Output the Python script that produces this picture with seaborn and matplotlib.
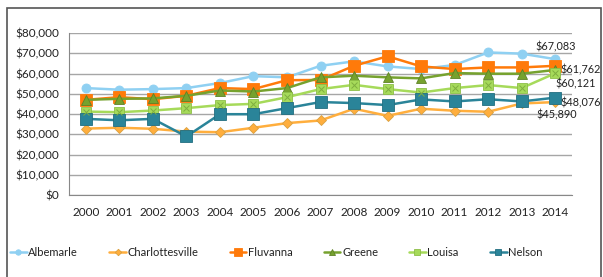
import matplotlib
matplotlib.use("Agg")
import matplotlib.pyplot as plt
import seaborn as sns
import pandas as pd
from matplotlib.patches import Rectangle
from matplotlib.ticker import FuncFormatter

years = [str(y) for y in range(2000, 2015)]
albemarle = [52800, 52000, 52300, 52800, 55300, 58700, 58100, 63800, 66000, 63500, 62200, 64200, 70400, 69800, 67083]
charlottesville = [32800, 33200, 32700, 31300, 31000, 33200, 35500, 36800, 42600, 39100, 42600, 41600, 41100, 45200, 45890]
fluvanna = [47000, 48300, 47300, 49000, 52800, 52300, 56700, 56800, 63800, 68500, 63500, 62200, 63000, 63000, 63800]
greene = [47000, 47500, 47700, 49000, 51600, 51100, 52800, 58100, 58900, 58100, 57600, 60200, 59900, 59900, 61762]
louisa = [41200, 40900, 41700, 42900, 44400, 45000, 48300, 52300, 54400, 52300, 50600, 52800, 54300, 52800, 60121]
nelson = [37600, 36900, 37600, 28900, 39900, 39900, 42900, 45900, 45400, 44400, 47200, 46200, 47300, 46200, 48076]
counties = ["Albemarle", "Charlottesville", "Fluvanna", "Greene", "Louisa", "Nelson"]
yticks = list(range(0, 80001, 10000))

series = dict(zip(counties, [albemarle, charlottesville, fluvanna, greene, louisa, nelson]))
rows = []
for c in counties:
    for i, (yr, v) in enumerate(zip(years, series[c])):
        rows.append({"county": c, "idx": i, "year": yr, "value": v})
df = pd.DataFrame(rows)

styles = {
    "Albemarle": dict(color="#8FD0F2", marker="o", ms=6.5, mec="#8FD0F2"),
    "Charlottesville": dict(color="#FFAE3D", marker="D", ms=5.5, mec="#D9A040"),
    "Fluvanna": dict(color="#FF7A0A", marker="s", ms=8.5, mec="#FF7A0A"),
    "Greene": dict(color="#76A22E", marker="^", ms=7.5, mec="#5E8226"),
    "Louisa": dict(color="#A6DA5A", marker="s", ms=7.5, mec="#8DBE48"),
    "Nelson": dict(color="#2A8499", marker="s", ms=8, mec="#226E80"),
}

sns.set_style("white")
plt.rcParams["font.family"] = ["Lato", "DejaVu Sans"]

fig = plt.figure(figsize=(6.03, 2.77), dpi=100)
ax = fig.add_axes([69/603, 1-195/277, (572-69)/603, (195-33)/277])

for c in counties:
    st = styles[c]
    sub = df[df.county == c]
    sns.lineplot(data=sub, x="idx", y="value", ax=ax, color=st["color"], lw=1.8,
                 marker=st["marker"], markersize=st["ms"], markeredgecolor=st["mec"],
                 markeredgewidth=0.6, label=c, legend=False, zorder=3)
    if c == "Louisa":
        ax.plot(sub["idx"], sub["value"], ls="none", marker="x", ms=4, mec="#7FAE3F", mew=0.7, zorder=4)

ax.set_xlim(-0.5, 14.5)
ax.set_ylim(0, 80000)
ax.set_yticks(yticks)
ax.yaxis.set_major_formatter(FuncFormatter(lambda v, p: f"${int(v):,}"))
ax.set_xticks(range(15))
ax.set_xticklabels(years)
ax.set_xticks([i - 0.5 for i in range(16)], minor=True)
ax.tick_params(axis="x", which="major", length=0, pad=9, labelsize=8.5, colors="#222222")
ax.tick_params(axis="x", which="minor", length=4, color="#888888", width=0.8)
ax.tick_params(axis="y", which="major", length=3, color="#888888", labelsize=8.5, colors="#222222", pad=4)
ax.set_xlabel("")
ax.set_ylabel("")
ax.grid(axis="y", color="#A6A6A6", lw=1)
ax.set_axisbelow(True)
for s in ["top", "right"]:
    ax.spines[s].set_visible(False)
for s in ["left", "bottom"]:
    ax.spines[s].set_color("#888888")
    ax.spines[s].set_linewidth(0.8)

kw = dict(fontsize=7.8, color="#222222")
ax.annotate("$67,083", (14, albemarle[-1]), xytext=(0, 5), textcoords="offset points", ha="center", va="bottom", **kw)
ax.annotate("$61,762", (14, greene[-1]), xytext=(4, 0), textcoords="offset points", ha="left", va="center", **kw)
ax.annotate("$60,121", (14, louisa[-1]), xytext=(0, -4), textcoords="offset points", ha="left", va="top", **kw)
ax.annotate("$48,076", (14, nelson[-1]), xytext=(4, -4), textcoords="offset points", ha="left", va="center", **kw)
ax.annotate("$45,890", (14, charlottesville[-1]), xytext=(1, -5), textcoords="offset points", ha="center", va="top", **kw)

handles, labels = ax.get_legend_handles_labels()
leg = fig.legend(handles[:6], labels[:6], loc="center left", bbox_to_anchor=(10/603, 1-252/277), ncol=6,
                 frameon=False, fontsize=8, handlelength=1.5, handletextpad=0.15, columnspacing=2.8,
                 borderaxespad=0, borderpad=0, markerscale=0.6)
for t in leg.get_texts():
    t.set_color("#222222")

fig.patches.append(Rectangle((7/603, -0.1), 594/603, 1.1 - 8/277, transform=fig.transFigure,
                             fill=False, edgecolor="#555555", lw=1.2))

fig.savefig("out.png", dpi=100)
